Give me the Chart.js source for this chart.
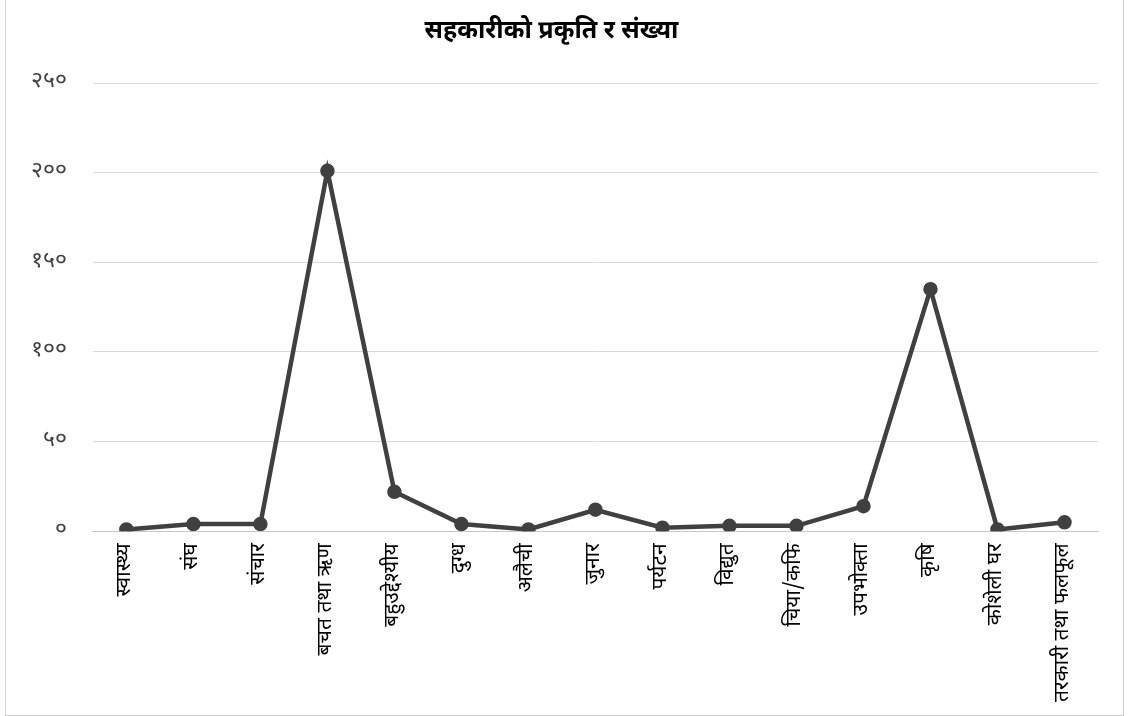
<!DOCTYPE html>
<html>
<head>
<meta charset="utf-8">
<script src="https://cdn.jsdelivr.net/npm/chart.js@4"></script>
<style>
  html, body { margin: 0; padding: 0; background: #fff; overflow: hidden; }
  #wrap { position: relative; width: 1131px; height: 716px; }
  #frame { position: absolute; left: 5px; top: -2px; width: 1119px; height: 718px; border: 1px solid #d0d0d0; box-sizing: border-box; pointer-events: none; }
  canvas { position: absolute; left: 0; top: 0; }
</style>
</head>
<body>
<div id="wrap">
  <canvas id="c" width="1131" height="716"></canvas>
  <div id="frame"></div>
</div>
<script>
const chartTitle = 'सहकारीको प्रकृति र संख्या';
const categories = ['स्वास्थ्य', 'संघ', 'संचार', 'बचत तथा ऋण', 'बहुउद्देश्यीय', 'दुग्ध', 'अलैची', 'जुनार', 'पर्यटन', 'विद्युत', 'चिया/कफि', 'उपभोक्ता', 'कृषि', 'कोशेली घर', 'तरकारी तथा फलफूल'];
const counts = [1, 4, 4, 201, 22, 4, 1, 12, 2, 3, 3, 14, 135, 1, 5];
const tickValues = [0, 50, 100, 150, 200, 250];
const tickLabels = ['०', '५०', '१००', '१५०', '२००', '२५०'];

const FONT = "'Noto Sans Devanagari', 'Lohit Devanagari', 'Noto Sans', sans-serif";

new Chart(document.getElementById('c'), {
  type: 'line',
  data: {
    labels: categories,
    datasets: [{
      data: counts,
      borderColor: '#404040',
      backgroundColor: '#404040',
      borderWidth: 4.5,
      pointRadius: 5,
      pointHoverRadius: 5,
      pointBackgroundColor: '#404040',
      pointBorderColor: '#404040',
      tension: 0
    }]
  },
  options: {
    responsive: false,
    animation: false,
    layout: { padding: { left: 5, right: 33, top: 16, bottom: 2 } },
    plugins: {
      legend: { display: false },
      tooltip: { enabled: false },
      title: {
        display: true,
        text: chartTitle,
        color: '#000',
        font: { family: FONT, size: 25, weight: 'bold' },
        padding: { top: 2, bottom: 35 }
      }
    },
    scales: {
      x: {
        offset: true,
        grid: { display: false, drawTicks: false },
        border: { display: true, color: '#c8c8c8', width: 1 },
        ticks: {
          autoSkip: false,
          maxRotation: 90,
          minRotation: 90,
          padding: 12,
          color: '#000',
          font: { family: FONT, size: 21 }
        }
      },
      y: {
        min: 0,
        max: 250,
        afterBuildTicks: (axis) => { axis.ticks = tickValues.map(v => ({ value: v })); },
        grid: { color: '#d9d9d9', lineWidth: 1, drawTicks: false },
        border: { display: false },
        ticks: {
          padding: 26,
          color: '#404040',
          font: { family: FONT, size: 23 },
          callback: (v) => tickLabels[tickValues.indexOf(v)]
        }
      }
    }
  }
});
</script>
</body>
</html>
